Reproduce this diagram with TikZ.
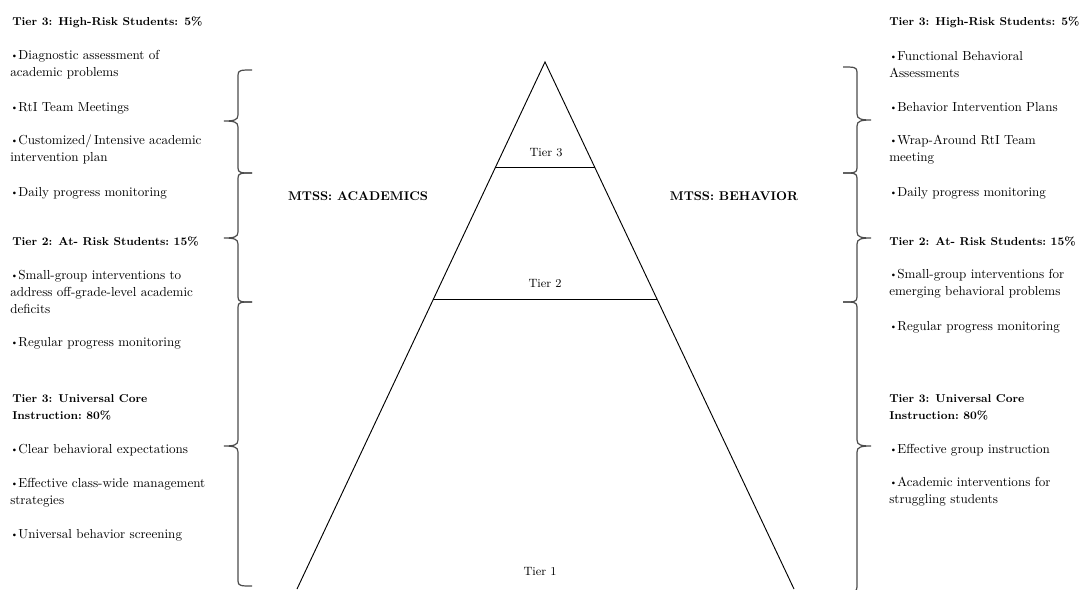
\documentclass[tikz,border=0pt]{standalone}
\usepackage{amsmath}
\usepackage{tikz}
\usetikzlibrary{calc}

\newcommand{\dotitem}{\raisebox{0.15ex}{\scriptsize\textbullet}}

\begin{document}
\begin{tikzpicture}[x=0.75pt, y=-0.75pt,
        txt/.style = {font = {\fontsize{9.8}{12.75}\selectfont}, black, anchor = west, align = left, inner sep = 0pt},
        head/.style = {txt, font = {\fontsize{8.6}{12.75}\selectfont\bfseries}},
        title/.style = {font = {\fontsize{9.5}{12}\selectfont\bfseries}, black, inner sep = 0pt},
        tierlbl/.style = {font = {\fontsize{9}{11}\selectfont}, black, inner sep = 0pt},
        brc/.style = {draw = black!70, line width = 0.9pt}]
    \useasboundingbox (0, 0) rectangle (1084, 589);

    % pyramid
    \coordinate (top) at (545, 62);
    \coordinate (botL) at (297, 589);
    \coordinate (botR) at (794, 589);
    \coordinate (t3L) at ($(top)!0.201!(botL)$);
    \coordinate (t3R) at ($(top)!0.201!(botR)$);
    \coordinate (t2L) at ($(top)!0.45!(botL)$);
    \coordinate (t2R) at ($(top)!0.45!(botR)$);
    \draw[black, line width = 0.7pt] (botL) -- (top) -- (botR);
    \draw[black, line width = 0.7pt] (t3L) -- (t3R);
    \draw[black, line width = 0.7pt] (t2L) -- (t2R);
    \node[tierlbl] (tier3) at (546, 153) {Tier 3};
    \node[tierlbl] (tier2) at (545, 283) {Tier 2};
    \node[tierlbl] (tier1) at (540, 571) {Tier 1};

    \node[title] (acad) at (358, 196) {MTSS: ACADEMICS};
    \node[title] (behav) at (734, 196) {MTSS: BEHAVIOR};

    % academics column
    \node[head] (acadH3) at (12, 22) {Tier 3: High-Risk Students: 5\%};
    \node[txt] (acad1) at (10, 64.5) {\dotitem Diagnostic assessment of\\academic problems};
    \node[txt] (acad2) at (10, 108) {\dotitem RtI Team Meetings};
    \node[txt] (acad3) at (10, 149.5) {\dotitem Customized/\,Intensive academic\\intervention plan};
    \node[txt] (acad4) at (10, 193) {\dotitem Daily progress monitoring};
    \node[head] (acadH2) at (12, 242) {Tier 2: At- Risk Students:\ 15\%};
    \node[txt] (acad5) at (10, 291.5) {\dotitem Small-group interventions to\\address off-grade-level academic\\deficits};
    \node[txt] (acad6) at (10, 343) {\dotitem Regular progress monitoring};
    \node[head] (acadH1) at (12, 407) {Tier 3: Universal Core\\Instruction:\ 80\%};
    \node[txt] (acad7) at (10, 450) {\dotitem Clear behavioral expectations};
    \node[txt] (acad8) at (10, 492.5) {\dotitem Effective class-wide management\\strategies};
    \node[txt] (acad9) at (10, 535) {\dotitem Universal behavior screening};

    % behavior column
    \node[head] (behH3) at (889, 22) {Tier 3: High-Risk Students: 5\%};
    \node[txt] (beh1) at (889, 64.5) {\dotitem Functional Behavioral\\Assessments};
    \node[txt] (beh2) at (889, 107) {\dotitem Behavior Intervention Plans};
    \node[txt] (beh3) at (889, 149.5) {\dotitem Wrap-Around RtI Team\\meeting};
    \node[txt] (beh4) at (889, 193) {\dotitem Daily progress monitoring};
    \node[head] (behH2) at (889, 242) {Tier 2: At- Risk Students:\ 15\%};
    \node[txt] (beh5) at (889, 283.5) {\dotitem Small-group interventions for\\emerging behavioral problems};
    \node[txt] (beh6) at (889, 327) {\dotitem Regular progress monitoring};
    \node[head] (behH1) at (889, 407) {Tier 3: Universal Core\\Instruction:\ 80\%};
    \node[txt] (beh7) at (889, 450) {\dotitem Effective group instruction};
    \node[txt] (beh8) at (889, 492) {\dotitem Academic interventions for\\struggling students};

    % braces, left side (tip to the left)
    \foreach \ya/\ym/\yb in {70/121/173, 173/238/302, 302/446/586}
        \draw[brc] (252,\ya) .. controls (241,\ya) and (238,\ya) .. (238,\ya+5) -- (238,\ym-6)
            .. controls (238,\ym-1) and (234,\ym) .. (224,\ym)
            .. controls (234,\ym) and (238,\ym+1) .. (238,\ym+6) -- (238,\yb-5)
            .. controls (238,\yb) and (241,\yb) .. (252,\yb);
    % braces, right side (tip to the right)
    \foreach \ya/\ym/\yb in {67/120/173, 173/238/302, 302/446/592}
        \draw[brc] (843,\ya) .. controls (854,\ya) and (857,\ya) .. (857,\ya+5) -- (857,\ym-6)
            .. controls (857,\ym-1) and (861,\ym) .. (871,\ym)
            .. controls (861,\ym) and (857,\ym+1) .. (857,\ym+6) -- (857,\yb-5)
            .. controls (857,\yb) and (854,\yb) .. (843,\yb);
\end{tikzpicture}
\end{document}
